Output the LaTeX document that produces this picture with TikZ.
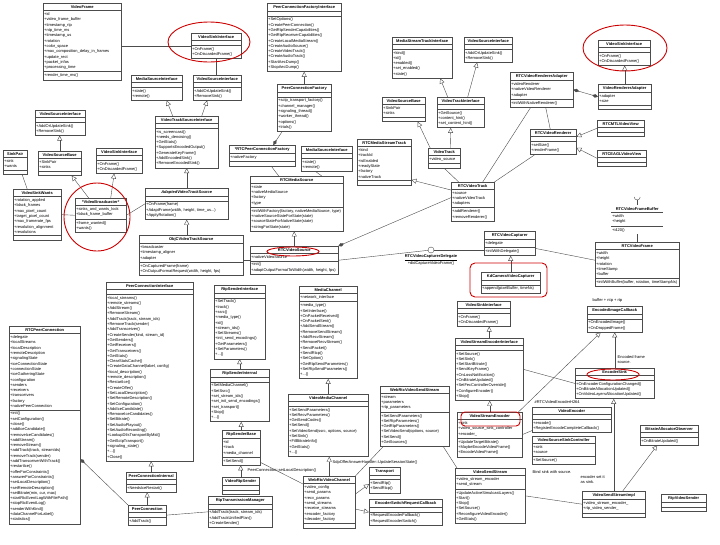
\documentclass[tikz,border=0pt]{standalone}
\usepackage{fontspec}
\setmainfont{Liberation Sans}
\usetikzlibrary{shapes.multipart,arrows.meta,positioning}
\newcommand{\classfont}{\fontsize{4}{5.3}\selectfont}
\newcommand{\classtitle}[1]{\hfill\textbf{#1}\hfill\null}
\begin{document}
\begin{tikzpicture}[x=1pt,y=-1pt,
  umlclass/.style={rectangle split, rectangle split parts=3, draw=black!70, fill=white, line width=0.4pt, inner xsep=1pt, inner ysep=2pt, anchor=north west, align=left, font=\classfont},
  lbl/.style={font=\classfont, inner sep=0.5pt, align=left},
  assoc/.style={draw=black!70, line width=0.4pt},
  inherit/.style={assoc, -{Triangle[open, length=5pt, width=5pt]}},
  compose/.style={assoc, {Diamond[length=6pt, width=3.5pt]}-},
  hilite/.style={draw=red!80!black, line width=0.9pt}]
\useasboundingbox[fill=white] (0,0) rectangle (720,544);

\node[umlclass, text width=76pt] (vframe) at (43,3) {\classtitle{VideoFrame}
  \nodepart{two}+id\\+video\_frame\_buffer\\+timestamp\_rtp\\+ntp\_time\_ms\\+timestamp\_us\\+rotation\\+color\_space\\+max\_composition\_delay\_in\_frames\\+update\_rect\\+packet\_infos\\+processing\_time
  \nodepart{three}+render\_time\_ms()};
\node[umlclass, text width=48pt] (vsinkA) at (191,33) {\classtitle{VideoSinkInterface}\nodepart{two}\nodepart{three}+OnFrame()\\+OnDiscardedFrame()};
\node[umlclass, text width=49pt] (msrcA) at (131,75) {\classtitle{MediaSourceInterface}\nodepart{two}\nodepart{three}+state()\\+remote()};
\node[umlclass, text width=46pt] (vsrcA) at (193,75) {\classtitle{VideoSourceInterface}\nodepart{two}\nodepart{three}+AddOrUpdateSink()\\+RemoveSink()};
\node[umlclass, text width=61pt] (vtsrc) at (155,116) {\classtitle{VideoTrackSourceInterface}\nodepart{two}
  \nodepart{three}+is\_screencast()\\+needs\_denoising()\\+GetStats()\\+SupportsEncodedOutput()\\+GenerateKeyFrame()\\+AddEncodedSink()\\+RemoveEncodedSink()};
\node[umlclass, text width=48pt] (vsrcB) at (35,110) {\classtitle{VideoSourceInterface}\nodepart{two}\nodepart{three}+AddOrUpdateSink()\\+RemoveSink()};
\node[umlclass, text width=22pt] (sinkpair) at (3,150) {\classtitle{SinkPair}\nodepart{two}+sink\\+wants\nodepart{three}};
\node[umlclass, text width=41pt] (vsbaseA) at (38,151) {\classtitle{VideoSourceBase}\nodepart{two}+SinkPair\\+sinks\nodepart{three}};
\node[umlclass, text width=46pt] (vwants) at (13,189) {\classtitle{VideoSinkWants}
  \nodepart{two}+rotation\_applied\\+black\_frames\\+max\_pixel\_count\\+target\_pixel\_count\\+max\_framerate\_fps\\+resolution\_alignment\\+resolutions\nodepart{three}};
\node[umlclass, text width=44pt] (vsinkB) at (96,148) {\classtitle{VideoSinkInterface}\nodepart{two}\nodepart{three}+OnFrame()\\+OnDiscardedFrame()};
\node[umlclass, text width=49pt] (vbcast) at (75,198) {\classtitle{*VideoBroadcaster*}
  \nodepart{two}+sinks\_and\_wants\_lock\\+black\_frame\_buffer\nodepart{three}+frame\_wanted()\\+wants()};
\node[umlclass, text width=81pt] (adapted) at (145,188) {\classtitle{\textit{AdaptedVideoTrackSource}}\nodepart{two}
  \nodepart{three}+OnFrame(frame)\\+AdaptFrame(width, height, time\_us...)\\+ApplyRotation()};
\node[umlclass, text width=102pt] (objcsrc) at (139,235) {\classtitle{ObjCVideoTrackSource}
  \nodepart{two}+broadcaster\\+timestamp\_aligner\\+adapter
  \nodepart{three}+OnCapturedFrame(frame)\\+OnOutputFormatRequest(width, height, fps)};

\node[umlclass, text width=72pt] (pcfi) at (267,3) {\classtitle{PeerConnectionFactoryInterface}\nodepart{two}
  \nodepart{three}+SetOptions()\\+CreatePeerConnection()\\+GetRtpSenderCapabilities()\\+GetRtpReceiverCapabilities()\\+CreateLocalMediaStream()\\+CreateAudioSource()\\+CreateVideoTrack()\\+CreateAudioTrack()\\+StartAecDump()\\+StopAecDump()};
\node[umlclass, text width=52pt] (pcf) at (277,84) {\classtitle{PeerConnectionFactory}\nodepart{two}
  \nodepart{three}+sctp\_transport\_factory()\\+channel\_manager()\\+signaling\_thread()\\+worker\_thread()\\+options()\\+trials()};
\node[umlclass, text width=64pt] (rtcpcf) at (229,145) {\classtitle{*RTCPeerConnectionFactory}\nodepart{two}+nativeFactory\nodepart{three}};
\node[umlclass, text width=49pt] (msrcB) at (301,146) {\classtitle{MediaSourceInterface}\nodepart{two}\nodepart{three}+state()\\+remote()};
\node[umlclass, text width=91pt] (rtcmsrc) at (250,176) {\classtitle{RTCMediaSource}
  \nodepart{two}+state\\+nativeMediaSource\\+factory\\+type
  \nodepart{three}+initWithFactory(factory, nativeMediaSource, type)\\+nativeSourceStateForState(state)\\+sourceStateForNativeState(state)\\+stringForState(state)};
\node[umlclass, text width=86pt] (rtcvsrc) at (250,246) {\classtitle{RTCVideoSource}
  \nodepart{two}+nativeVideoSource\nodepart{three}+init()\\+adaptOutputFormatToWidth(width, height, fps)};

\node[umlclass, text width=58pt] (mstif) at (392,37) {\classtitle{MediaStreamTrackInterface}\nodepart{two}
  \nodepart{three}+kind()\\+id()\\+enabled()\\+set\_enabled()\\+state()};
\node[umlclass, text width=46pt] (vsrcC) at (464,37) {\classtitle{VideoSourceInterface}\nodepart{two}\nodepart{three}+AddOrUpdateSink()\\+RemoveSink()};
\node[umlclass, text width=41pt] (vsbaseB) at (382,97) {\classtitle{VideoSourceBase}\nodepart{two}+SinkPair\\+sinks\nodepart{three}};
\node[umlclass, text width=45pt] (vtif) at (437,97) {\classtitle{VideoTrackInterface}\nodepart{two}
  \nodepart{three}+GetSource()\\+content\_hint()\\+set\_content\_hint()};
\node[umlclass, text width=52pt] (rtcmst) at (357,139) {\classtitle{RTCMediaStreamTrack}
  \nodepart{two}+kind\\+trackId\\+isEnabled\\+readyState\\+factory\\+nativeTrack\nodepart{three}};
\node[umlclass, text width=30pt] (vtrack) at (428,148) {\classtitle{VideoTrack}\nodepart{two}+video\_source\nodepart{three}};
\node[umlclass, text width=41pt] (rtcvtrack) at (451,182) {\classtitle{RTCVideoTrack}
  \nodepart{two}+source\\+nativeVideoTrack\\+adapters\nodepart{three}+addRenderer()\\+removeRenderer()};

\node[umlclass, text width=50pt] (vsinkC) at (598,40) {\classtitle{VideoSinkInterface}\nodepart{two}\nodepart{three}+OnFrame()\\+OnDiscardedFrame()};
\node[umlclass, text width=51pt] (vradapter) at (598,84) {\classtitle{VideoRendererAdapter}\nodepart{two}+adapter\\+size\nodepart{three}};
\node[umlclass, text width=61pt] (rtcvradapter) at (510,72) {\classtitle{RTCVideoRendererAdapter}
  \nodepart{two}+videoRenderer\\+nativeVideoRenderer\\+adapter\nodepart{three}+initWithNativeRenderer()};
\node[umlclass, text width=44pt] (rtcvrend) at (530,129) {\classtitle{RTCVideoRenderer}\nodepart{two}\nodepart{three}+setSize()\\+renderFrame()};
\node[umlclass, text width=45pt] (mtlview) at (597,120) {\classtitle{RTCMTLVideoView}\nodepart{two}\nodepart{three}};
\node[umlclass, text width=47pt] (eaglview) at (597,150) {\classtitle{RTCEAGLVideoView}\nodepart{two}\nodepart{three}};
\node[umlclass, draw=none, fill=none, text width=50pt] (rtcvfb) at (611,205) {\classtitle{RTCVideoFrameBuffer}
  \nodepart{two}+width\\+height\nodepart{three}+i420()};
\node[umlclass, text width=82pt] (rtcvframe) at (595,242) {\classtitle{RTCVideoFrame}
  \nodepart{two}+width\\+height\\+rotation\\+timeStamp\\+buffer\nodepart{three}+initWithBuffer(buffer, rotation, timeStampNs)};
\node[umlclass, text width=49pt] (rtcvcap) at (484,231) {\classtitle{RTCVideoCapturer}\nodepart{two}+delegate\nodepart{three}+initWithDelegate()};
\node[umlclass, text width=57pt] (kdcap) at (481,272) {\classtitle{KdCameraVideoCapturer}\nodepart{two}\nodepart{three}+append(pixelBuffer, timeNs)};
\node[circle, draw=black!70, fill=white, minimum size=6pt, inner sep=0pt] (capdel) at (431,250) {};
\node[lbl, align=center, below=1pt of capdel] (capdellbl) {\underline{\textbf{RTCVideoCapturerDelegate}}\\+didCaptureVideoFrame()};

\node[umlclass, text width=51pt] (vsinkD) at (457,301) {\classtitle{VideoSinkInterface}\nodepart{two}\nodepart{three}+OnFrame()\\+OnDiscardedFrame()};
\node[umlclass, text width=66pt] (vseif) at (455,338) {\classtitle{VideoStreamEncoderInterface}\nodepart{two}
  \nodepart{three}+SetSource()\\+SetSink()\\+SetStartBitrate()\\+SendKeyFrame()\\+OnLossNotification()\\+OnBitrateUpdated()\\+SetFecControllerOverride()\\+ConfigureEncoder()\\+Stop()};
\node[umlclass, text width=63pt] (vsenc) at (457,412) {\classtitle{VideoStreamEncoder}
  \nodepart{two}+sink\\+video\_source\_sink\_controller\\+encoder\_
  \nodepart{three}+UpdateTargetBitrate()\\+MaybeEncodeVideoFrame()\\+EncodeVideoFrame()};
\node[umlclass, text width=53pt] (eic) at (587,306) {\classtitle{EncodedImageCallback}\nodepart{two}\nodepart{three}+OnEncodedImage()\\+OnDroppedFrame()};
\node[umlclass, text width=77pt] (esink) at (575,368) {\classtitle{EncoderSink}\nodepart{two}
  \nodepart{three}+OnEncoderConfigurationChanged()\\+OnBitrateAllocationUpdated()\\+OnVideoLayersAllocationUpdated()};
\node[umlclass, text width=77pt] (venc) at (532,407) {\classtitle{VideoEncoder}\nodepart{two}\nodepart{three}+encode()\\+RegisterEncodeCompleteCallback()};
\node[umlclass, text width=61pt] (vssc) at (532,436) {\classtitle{VideoSourceSinkController}\nodepart{two}+sink\\+source\nodepart{three}+SetSource()};
\node[umlclass, text width=56pt] (bao) at (640,425) {\classtitle{BitrateAllocatorObserver}\nodepart{two}\nodepart{three}+OnBitrateUpdated()};
\node[umlclass, text width=61pt] (vssimpl) at (582,491) {\classtitle{VideoSendStreamImpl}
  \nodepart{two}+video\_stream\_encoder\_\\+rtp\_video\_sender\_\nodepart{three}};
\node[umlclass, text width=43pt] (rtpvsender) at (661,494) {\classtitle{RtpVideoSender}\nodepart{two}\nodepart{three}};
\node[umlclass, text width=68pt] (vsstream) at (455,468) {\classtitle{VideoSendStream}
  \nodepart{two}+video\_stream\_encoder\\+send\_stream
  \nodepart{three}+UpdateActiveSimulcastLayers()\\+Start()\\+Stop()\\+SetSource()\\+ReconfigureVideoEncoder()\\+GetStats()};

\node[umlclass, text width=67pt] (wrvss) at (380,386) {\classtitle{WebRtcVideoSendStream}
  \nodepart{two}+stream\\+parameters\\+rtp\_parameters
  \nodepart{three}+SetSendParameters()\\+SetRtpParameters()\\+GetRtpParameters()\\+SetVideoSend(options, source)\\+SetSend()\\+GetSources()};
\node[umlclass, text width=56pt] (mch) at (299,286) {\classtitle{MediaChannel}
  \nodepart{two}+network\_interface
  \nodepart{three}+media\_type()\\+SetInterface()\\+OnPacketReceived()\\+OnPacketSent()\\+AddSendStream()\\+RemoveSendStream()\\+AddRecvStream()\\+RemoveRecvStream()\\+SendPacket()\\+SendRtcp()\\+SetOption()\\+GetRtpSendParameters()\\+SetRtpSendParameters()\\+...()};
\node[umlclass, text width=78pt] (vmch) at (288,394) {\classtitle{VideoMediaChannel}\nodepart{two}
  \nodepart{three}+SetSendParameters()\\+SetRecvParameters()\\+GetSendCodec()\\+SetSend()\\+SetVideoSend(ssrc, options, source)\\+SetSink()\\+FillBitrateInfo()\\+GetStats()\\+...()};
\node[umlclass, text width=50pt] (wrvch) at (303,476) {\classtitle{WebRtcVideoChannel}
  \nodepart{two}+video\_config\\+send\_params\\+recv\_params\\+send\_streams\\+receive\_streams\\+encoder\_factory\\+decoder\_factory\nodepart{three}};
\node[umlclass, text width=29pt] (transport) at (369,467) {\classtitle{Transport}\nodepart{two}\nodepart{three}+SendRtp()\\+SendRtcp()};
\node[umlclass, text width=71pt] (escb) at (369,499) {\classtitle{EncoderSwitchRequestCallback}\nodepart{two}
  \nodepart{three}+RequestEncoderFallback()\\+RequestEncoderSwitch()};

\node[umlclass, text width=49pt] (rtpsif) at (214,285) {\classtitle{RtpSenderInterface}\nodepart{two}
  \nodepart{three}+SetTrack()\\+track()\\+ssrc()\\+media\_type()\\+id()\\+stream\_ids()\\+SetStreams()\\+init\_send\_encodings()\\+GetParameters()\\+SetParameters()\\+...()};
\node[umlclass, text width=57pt] (rtpsint) at (210,369) {\classtitle{RtpSenderInternal}\nodepart{two}
  \nodepart{three}+SetMediaChannel()\\+SetSsrc()\\+set\_stream\_ids()\\+set\_init\_send\_encodings()\\+set\_transport()\\+Stop()\\+...()};
\node[umlclass, text width=36pt] (rtpsbase) at (222,430) {\classtitle{RtpSenderBase}
  \nodepart{two}+id\\+track\\+media\_channel\nodepart{three}+SetSend()};
\node[umlclass, text width=35pt] (vrtpsender) at (222,477) {\classtitle{VideoRtpSender}\nodepart{two}\nodepart{three}};
\node[umlclass, text width=62pt] (rtptm) at (208,496) {\classtitle{RtpTransmissionManager}\nodepart{two}
  \nodepart{three}+AddTrack(track, stream\_ids)\\+AddTrackUnifiedPlan()\\+CreateSender()};

\node[umlclass, text width=85pt] (pcif) at (106,282) {\classtitle{PeerConnectionInterface}\nodepart{two}
  \nodepart{three}+local\_streams()\\+remote\_streams()\\+AddStream()\\+RemoveStream()\\+AddTrack(track, stream\_ids)\\+RemoveTrack(sender)\\+AddTransceiver()\\+CreateSender(kind, stream\_id)\\+GetSenders()\\+GetReceivers()\\+GetTransceivers()\\+GetStats()\\+ClearStatsCache()\\+CreateDataChannel(label, config)\\+local\_description()\\+remote\_description()\\+RestartIce()\\+CreateOffer()\\+SetLocalDescription()\\+SetRemoteDescription()\\+SetConfiguration()\\+AddIceCandidate()\\+RemoveIceCandidates()\\+SetBitrate()\\+SetAudioPlayout()\\+SetAudioRecording()\\+LookupDtlsTransportByMid()\\+GetSctpTransport()\\+signaling\_state()\\+...()\\+Close()};
\node[umlclass, text width=48pt] (pcint) at (126,472) {\classtitle{PeerConnectionInternal}\nodepart{two}\nodepart{three}+NeedsIceRestart()};
\node[umlclass, text width=36pt] (pc) at (128,505) {\classtitle{PeerConnection}\nodepart{two}\nodepart{three}+AddTrack()};
\node[umlclass, text width=69pt] (rtcpc) at (9,326) {\classtitle{RTCPeerConnection}
  \nodepart{two}+delegate\\+localStreams\\+localDescription\\+remoteDescription\\+signalingState\\+iceConnectionState\\+connectionState\\+iceGatheringState\\+configuration\\+senders\\+receivers\\+transceivers\\+factory\\+nativePeerConnection
  \nodepart{three}+init()\\+setConfiguration()\\+close()\\+addIceCandidate()\\+removeIceCandidates()\\+addStream()\\+removeStream()\\+addTrack(track, streamIds)\\+removeTrack(sender)\\+addTransceiverWithTrack()\\+restartIce()\\+offerForConstraints()\\+answerForConstraints()\\+setLocalDescription()\\+setRemoteDescription()\\+setBitrate(min, cur, max)\\+startRtcEventLogWithFilePath()\\+stopRtcEventLog()\\+senderWithKind()\\+dataChannelForLabel()\\+statistics()};

\node[lbl, anchor=west] (lblbuf) at (592,300) {buffer + ntp + rtp};
\node[lbl, anchor=north west] (lblsrc) at (617,355) {Encoded frame\\source.};
\node[lbl, anchor=west] (lblh264) at (534,402) {\#RTCVideoEncoderH264};
\node[lbl, anchor=west] (lblbind) at (532,472) {Bind sink with source.};
\node[lbl, anchor=north west] (lblsink) at (580,475) {encoder set it\\as sink.};
\node[lbl, anchor=west] (lblsdp) at (332,462) {SdpOfferAnswerHandler::UpdateSessionState()};
\node[lbl, anchor=west] (lblsetld) at (247,470) {PeerConnection::setLocalDescription()};

\draw[assoc] (vsinkA.west) -- (vsinkA.west -| vframe.east);
\draw[assoc] (vsinkA.south) -- (vsinkA.south |- vsrcA.north);
\draw[inherit] ([xshift=-14pt]vtsrc.north) -- ([xshift=10pt]msrcA.south);
\draw[inherit] ([xshift=15pt]vtsrc.north) -- ([xshift=-10pt]vsrcA.south);
\draw[inherit] (vsbaseA.north) -- (vsbaseA.north |- vsrcB.south);
\draw[assoc] ([xshift=7pt]sinkpair.south) -- ([xshift=-10pt]vwants.north);
\draw[assoc] (vwants.east) -- (vbcast.west);
\draw[inherit] ([xshift=-12pt]vbcast.north) -- ([xshift=12pt]vsbaseA.south);
\draw[inherit] ([xshift=10pt]vbcast.north) -- ([xshift=-5pt]vsinkB.south);
\draw[assoc] (vbcast.east) -- (adapted.west);
\draw[inherit] (adapted.north) -- (adapted.north |- vtsrc.south);
\draw[inherit] (objcsrc.north -| adapted.south) -- (adapted.south);
\draw[assoc] (objcsrc.east |- rtcvsrc.west) -- (rtcvsrc.west);

\draw[inherit] (pcf.north) -- (pcf.north |- pcfi.south);
\draw[compose] ([xshift=11pt]rtcpcf.north) -- ([xshift=-22pt]pcf.south);
\draw[assoc] ([xshift=9pt]rtcpcf.south) -- ([xshift=-18pt]rtcmsrc.north);
\draw[assoc] ([xshift=-11pt]msrcB.south) -- ([xshift=25pt]rtcmsrc.north);
\draw[inherit] (rtcvsrc.north) -- (rtcvsrc.north |- rtcmsrc.south);
\draw[compose] (rtcvsrc.north east) -- ([yshift=4pt]rtcvtrack.west);
\draw[inherit] ([yshift=-8pt]rtcvtrack.north west) -- ([yshift=5pt]rtcmst.south east);
\draw[assoc] (vtrack.south) -- ([xshift=-14pt]rtcvtrack.north);
\draw[inherit] ([xshift=6pt]vtrack.north) -- ([xshift=-10pt]vtif.south);
\draw[inherit] ([xshift=-14pt]vtrack.north) -- ([xshift=14pt]vsbaseB.south);
\draw[inherit] ([xshift=-13pt]vtif.north) -- ([xshift=18pt]mstif.south);
\draw[inherit] ([xshift=7pt]vtif.north) -- ([xshift=-11pt]vsrcC.south);

\draw[assoc, {Diamond[length=6pt, width=3.5pt]}-{Diamond[length=6pt, width=3.5pt]}] (rtcvradapter.east) -- (vradapter.west);
\draw[inherit] (vradapter.north) -- (vradapter.north |- vsinkC.south);
\draw[assoc] ([xshift=-11pt]rtcvradapter.south) -- ([xshift=10pt]rtcvtrack.north);
\draw[assoc] ([xshift=4pt]rtcvradapter.south) -- ([xshift=-3pt]rtcvrend.north);
\draw[assoc] ([xshift=5pt]rtcvrend.south west) -- (rtcvtrack.north east);
\draw[inherit] (mtlview.west) -- ([yshift=5pt]rtcvrend.east);
\draw[inherit] (eaglview.west) -- ([yshift=-6pt]rtcvrend.east);
\draw[assoc] (rtcvfb.text split west) -- (rtcvfb.text split east);
\draw[assoc] (rtcvfb.two split west) -- (rtcvfb.two split east);
\draw[assoc] (rtcvfb.north) -- ++(0,-5) coordinate (sockbase);
\draw[assoc] (sockbase) ++(-3pt,3pt) arc[start angle=180, end angle=360, radius=3pt];
\draw[assoc] (rtcvfb.south) -- (rtcvframe.north);
\draw[assoc] ([yshift=-5pt]rtcvcap.east) -- ([yshift=4pt]rtcvframe.west);
\draw[inherit] (kdcap.north) -- (kdcap.north |- rtcvcap.south);
\draw[assoc] (rtcvsrc.east) -- (capdel);
\draw[assoc] (capdel) -- (capdel -| rtcvcap.west);

\draw[inherit] (vseif.north) -- (vseif.north |- vsinkD.south);
\draw[inherit] (vsenc.north) -- (vsenc.north |- vseif.south);
\draw[assoc] (vseif.east) -- (esink.west);
\draw[inherit] (esink.north) -- (esink.north |- eic.south);
\draw[inherit] ([xshift=-4pt]vsenc.north east) -- ([xshift=-14pt]eic.south);
\draw[assoc] (vsenc.east) -- ([yshift=2pt]venc.south west);
\draw[inherit] ([xshift=9pt]vssimpl.north) -- ([xshift=-12pt]bao.south);
\draw[inherit] (vssimpl.north) -- (vssimpl.north |- esink.south);
\draw[assoc] (vsstream.east) -- (vssimpl.west);
\draw[assoc] ([xshift=-6pt]wrvss.south east) -- ([xshift=2pt]vsstream.north west);
\draw[assoc] (wrvch.north east) -- ([xshift=3pt]wrvss.south west);
\draw[inherit] (wrvch.north) -- (wrvch.north |- vmch.south);
\draw[inherit] (vmch.north) -- (vmch.north |- mch.south);
\draw[assoc] ([yshift=3pt]rtpsbase.south east) -- ([yshift=-8pt]wrvch.north west);
\draw[inherit] ([yshift=8pt]wrvch.east) -- ([yshift=-4pt]transport.west);
\draw[inherit] ([yshift=-7pt]wrvch.east) -- (escb.west);

\draw[inherit] (rtpsint.north) -- (rtpsint.north |- rtpsif.south);
\draw[inherit] (rtpsbase.north) -- (rtpsbase.north |- rtpsint.south);
\draw[inherit] (vrtpsender.north) -- (vrtpsender.north |- rtpsbase.south);
\draw[inherit] (pcint.north) -- (pcint.north |- pcif.south);
\draw[inherit] (pc.north) -- (pc.north |- pcint.south);
\draw[assoc] (pc.east) -- (rtptm.west);
\draw[compose] ([yshift=-34pt]rtcpc.east) -- (pc.north west);

\draw[hilite] (209,42) ellipse [x radius=41pt, y radius=20pt];
\draw[hilite] (97,217) ellipse [x radius=33pt, y radius=34pt];
\draw[hilite] (625,48) ellipse [x radius=42pt, y radius=23pt];
\draw[hilite] (293,251.5) ellipse [x radius=26pt, y radius=4.5pt];
\draw[hilite] (613,374.5) ellipse [x radius=26pt, y radius=5.5pt];
\draw[hilite, rounded corners=5pt] (470,263) rectangle (547,297);
\draw[hilite, rounded corners=4pt] (461,412) rectangle (520,426);
\end{tikzpicture}
\end{document}
